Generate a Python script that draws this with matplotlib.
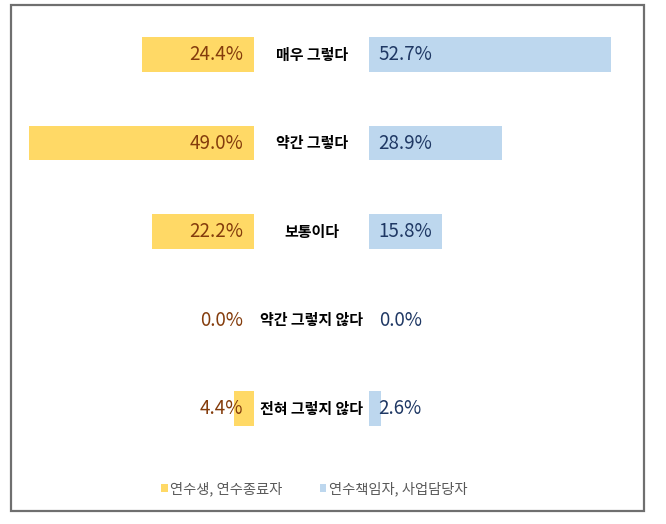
import matplotlib
matplotlib.use("Agg")
import matplotlib.pyplot as plt
from matplotlib.patches import Rectangle

plt.rcParams['font.family'] = ['Noto Sans CJK KR', 'DejaVu Sans']

categories = ["매우 그렇다", "약간 그렇다", "보통이다", "약간 그렇지 않다", "전혀 그렇지 않다"]
trainees = [24.4, 49.0, 22.2, 0.0, 4.4]
managers = [52.7, 28.9, 15.8, 0.0, 2.6]
series_names = ["연수생, 연수종료자", "연수책임자, 사업담당자"]

half_gap = 12.5
rows = list(range(len(categories)))

fig = plt.figure(figsize=(6.66, 5.24), dpi=100)
ax = fig.add_axes([0, 0, 1, 1])

b1 = ax.barh(rows, trainees, left=[-half_gap - v for v in trainees], height=0.395,
             color="#FFD966", label=series_names[0])
b2 = ax.barh(rows, managers, left=half_gap, height=0.395,
             color="#BDD7EE", label=series_names[1])

for i, (a, b) in enumerate(zip(trainees, managers)):
    ax.text(-14.9, i, f"{a:.1f}%", ha="right", va="center", fontsize=13.5, color="#843C0C")
    ax.text(14.6, i, f"{b:.1f}%", ha="left", va="center", fontsize=13.5, color="#1F3864")
    ax.text(0, i, categories[i], ha="center", va="center", fontsize=10.8,
            fontweight="bold", color="black")

ax.set_xlim(-67.9, 77.2)
ax.set_ylim(5.305, -0.616)
ax.axis("off")

fig.legend(handles=[b1, b2], loc="center", bbox_to_anchor=(0.472, 1 - 489 / 524),
           ncol=2, frameon=False, fontsize=10.3, handlelength=0.45, handleheight=0.45,
           handletextpad=0.2, columnspacing=2.6, labelcolor="#595959")

fig.patches.append(Rectangle((11 / 666, 1 - 511 / 524), 633 / 666, 506 / 524,
                             transform=fig.transFigure, fill=False,
                             edgecolor="#6f6f6f", linewidth=1.6))

fig.savefig("out.png", dpi=100)
